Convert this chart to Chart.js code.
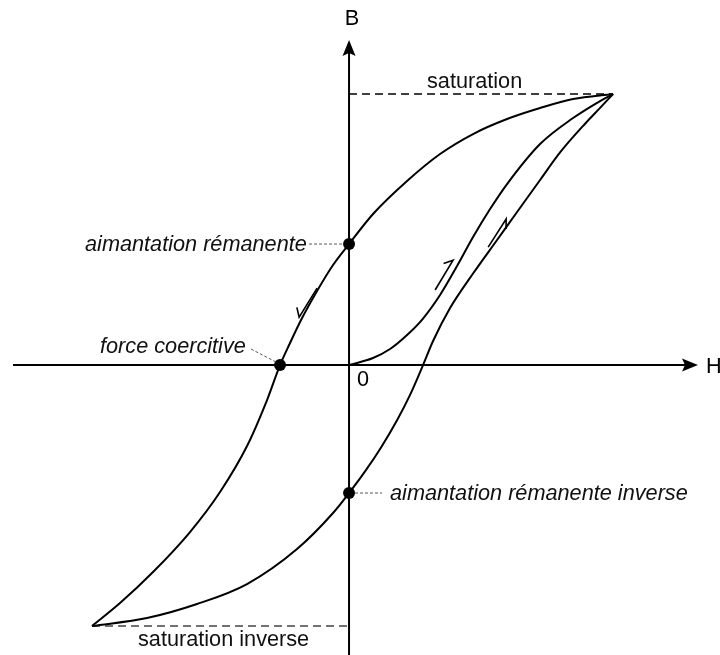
<!DOCTYPE html>
<html lang="fr">
<head>
<meta charset="utf-8">
<title>Cycle d'hystérésis</title>
<script src="https://cdn.jsdelivr.net/npm/chart.js@4.4.1/dist/chart.umd.min.js"></script>
<style>
  html, body { margin: 0; padding: 0; background: #fff; }
  #wrap { width: 720px; height: 655px; }
</style>
</head>
<body>
<div id="wrap"><canvas id="hyst" width="720" height="655"></canvas></div>
<script>
// Courbe de première aimantation
const firstH = [0, 0.909, 1.553, 2.197, 2.803, 3.447, 4.091, 4.697, 5.341, 5.985, 7.235, 8.485, 9.508, 10];
const firstB = [0, 0.258, 0.590, 1.107, 1.716, 2.583, 3.653, 4.723, 5.756, 6.679, 8.155, 9.114, 9.742, 10];

// Branche descendante (saturation -> saturation inverse)
const downH = [10, 8.485, 7.235, 5.985, 4.697, 3.447, 2.197, 0.909, 0, -0.606, -1.212, -1.818, -2.235, -2.614,
               -3.106, -3.864, -4.886, -6.023, -7.424, -8.674, -9.735];
const downB = [10, 9.815, 9.483, 9.077, 8.524, 7.786, 6.790, 5.572, 4.465, 3.690, 2.731, 1.661, 0.812, 0,
               -1.292, -2.989, -4.686, -6.162, -7.638, -8.782, -9.631];

// Branche montante (saturation inverse -> saturation)
const upH = [-9.735, -7.652, -5.758, -3.864, -1.970, -0.606, 0, 0.606, 1.212, 1.818, 2.311, 2.803,
             3.182, 3.826, 4.697, 5.606, 6.364, 7.235, 7.992, 8.939, 9.508, 10];
const upB = [-9.631, -9.336, -8.819, -8.081, -6.790, -5.461, -4.723, -3.926, -3.041, -2.037, -1.100, 0,
             0.886, 2.103, 3.376, 4.613, 5.646, 6.827, 7.845, 8.904, 9.487, 10];

// Points remarquables : rémanence, coercivité, rémanence inverse
const markH = [0, -2.614, 0];
const markB = [4.465, 0, -4.723];

// Niveaux de saturation
const satH = [0, 10];
const satB = [10, 10];
const satInvH = [-9.735, 0];
const satInvB = [-9.631, -9.631];

// Flèches de sens de parcours : queue, pointe, rotation du crochet (degrés)
const arrowTail = [[3.26, 2.77], [5.27, 4.35], [-1.21, 2.84]];
const arrowTip = [[3.94, 3.87], [5.95, 5.39], [-1.89, 1.77]];
const arrowTurn = [40, -32, -45];

const pts = (hs, bs) => hs.map((h, i) => ({ x: h, y: bs[i] }));

const FONT = '21.7px "Liberation Sans", Arial, sans-serif';
const FONT_I = 'italic 21.7px "Liberation Sans", Arial, sans-serif';

function harpoon(ctx, x0, y0, x1, y1, turn) {
    const a = Math.atan2(y0 - y1, x0 - x1) + turn * Math.PI / 180;
    ctx.beginPath();
    ctx.moveTo(x0, y0);
    ctx.lineTo(x1, y1);
    ctx.lineTo(x1 + 10 * Math.cos(a), y1 + 10 * Math.sin(a));
    ctx.stroke();
}

function leader(ctx, x0, y0, x1, y1) {
    ctx.save();
    ctx.strokeStyle = '#555';
    ctx.lineWidth = 1;
    ctx.setLineDash([3, 2]);
    ctx.beginPath();
    ctx.moveTo(x0, y0);
    ctx.lineTo(x1, y1);
    ctx.stroke();
    ctx.restore();
}

// Axes H et B avec leurs flèches et les annotations
const axesPlugin = {
    id: 'axes',
    beforeDatasetsDraw(chart) {
        const ctx = chart.ctx;
        const xs = chart.scales.x, ys = chart.scales.y;
        const ox = xs.getPixelForValue(0), oy = ys.getPixelForValue(0);
        ctx.save();
        ctx.strokeStyle = '#000';
        ctx.fillStyle = '#000';
        ctx.lineWidth = 2;
        ctx.beginPath();
        ctx.moveTo(13, oy);
        ctx.lineTo(688, oy);
        ctx.moveTo(ox, chart.height);
        ctx.lineTo(ox, 50);
        ctx.stroke();
        // pointes
        ctx.beginPath();
        ctx.moveTo(698, oy);
        ctx.lineTo(682, oy - 6.5);
        ctx.lineTo(685, oy);
        ctx.lineTo(682, oy + 6.5);
        ctx.closePath();
        ctx.fill();
        ctx.beginPath();
        ctx.moveTo(ox, 40);
        ctx.lineTo(ox - 6.5, 56);
        ctx.lineTo(ox, 53);
        ctx.lineTo(ox + 6.5, 56);
        ctx.closePath();
        ctx.fill();

        ctx.font = FONT;
        ctx.textBaseline = 'alphabetic';
        ctx.textAlign = 'center';
        ctx.fillText('B', ox + 3, 25);
        ctx.textAlign = 'left';
        ctx.fillText('H', 706, oy + 8);
        ctx.fillText('0', ox + 8, oy + 21);
        ctx.restore();
    },
    afterDatasetsDraw(chart) {
        const ctx = chart.ctx;
        const xs = chart.scales.x, ys = chart.scales.y;
        const px = v => xs.getPixelForValue(v), py = v => ys.getPixelForValue(v);
        ctx.save();
        ctx.strokeStyle = '#000';
        ctx.fillStyle = '#111';
        ctx.lineWidth = 1.6;
        arrowTail.forEach((t, i) => {
            harpoon(ctx, px(t[0]), py(t[1]), px(arrowTip[i][0]), py(arrowTip[i][1]), arrowTurn[i]);
        });

        // lignes de rappel vers les points remarquables
        const rx = px(markH[0]), ry = py(markB[0]);
        leader(ctx, rx - 40, ry, rx - 5, ry);
        const cx = px(markH[1]), cy = py(markB[1]);
        leader(ctx, cx - 29, cy - 16, cx - 4, cy - 3);
        const ix = px(markH[2]), iy = py(markB[2]);
        leader(ctx, ix + 6, iy, ix + 33, iy);

        ctx.textAlign = 'left';
        ctx.textBaseline = 'alphabetic';
        ctx.font = FONT;
        ctx.fillText('saturation', 427, py(satB[0]) - 6);
        ctx.fillText('saturation inverse', 138, py(satInvB[0]) + 20);
        ctx.font = FONT_I;
        ctx.fillText('aimantation rémanente', 85, ry + 7);
        ctx.fillText('force coercitive', 100, cy - 12);
        ctx.fillText('aimantation rémanente inverse', 390, iy + 7);
        ctx.restore();
    }
};

const curve = (data) => ({
    data,
    showLine: true,
    borderColor: '#000',
    borderWidth: 2,
    pointRadius: 0,
    cubicInterpolationMode: 'monotone',
    fill: false
});

new Chart(document.getElementById('hyst'), {
    type: 'scatter',
    data: {
        datasets: [
            curve(pts(firstH, firstB)),
            curve(pts(downH, downB)),
            curve(pts(upH, upB)),
            {
                data: pts(satH, satB),
                showLine: true,
                borderColor: '#000',
                borderWidth: 1.6,
                borderDash: [8, 5],
                pointRadius: 0
            },
            {
                data: pts(satInvH, satInvB),
                showLine: true,
                borderColor: '#444',
                borderWidth: 1.6,
                borderDash: [8, 5],
                pointRadius: 0
            },
            {
                data: pts(markH, markB),
                showLine: false,
                pointRadius: 6,
                pointBackgroundColor: '#000',
                pointBorderWidth: 0
            }
        ]
    },
    options: {
        responsive: false,
        animation: false,
        events: [],
        layout: { padding: 0, autoPadding: false },
        plugins: { legend: { display: false }, tooltip: { enabled: false } },
        scales: {
            x: { type: 'linear', display: false, min: -13.22, max: 14.05 },
            y: { type: 'linear', display: false, min: -10.70, max: 13.47 }
        }
    },
    plugins: [axesPlugin]
});
</script>
</body>
</html>
